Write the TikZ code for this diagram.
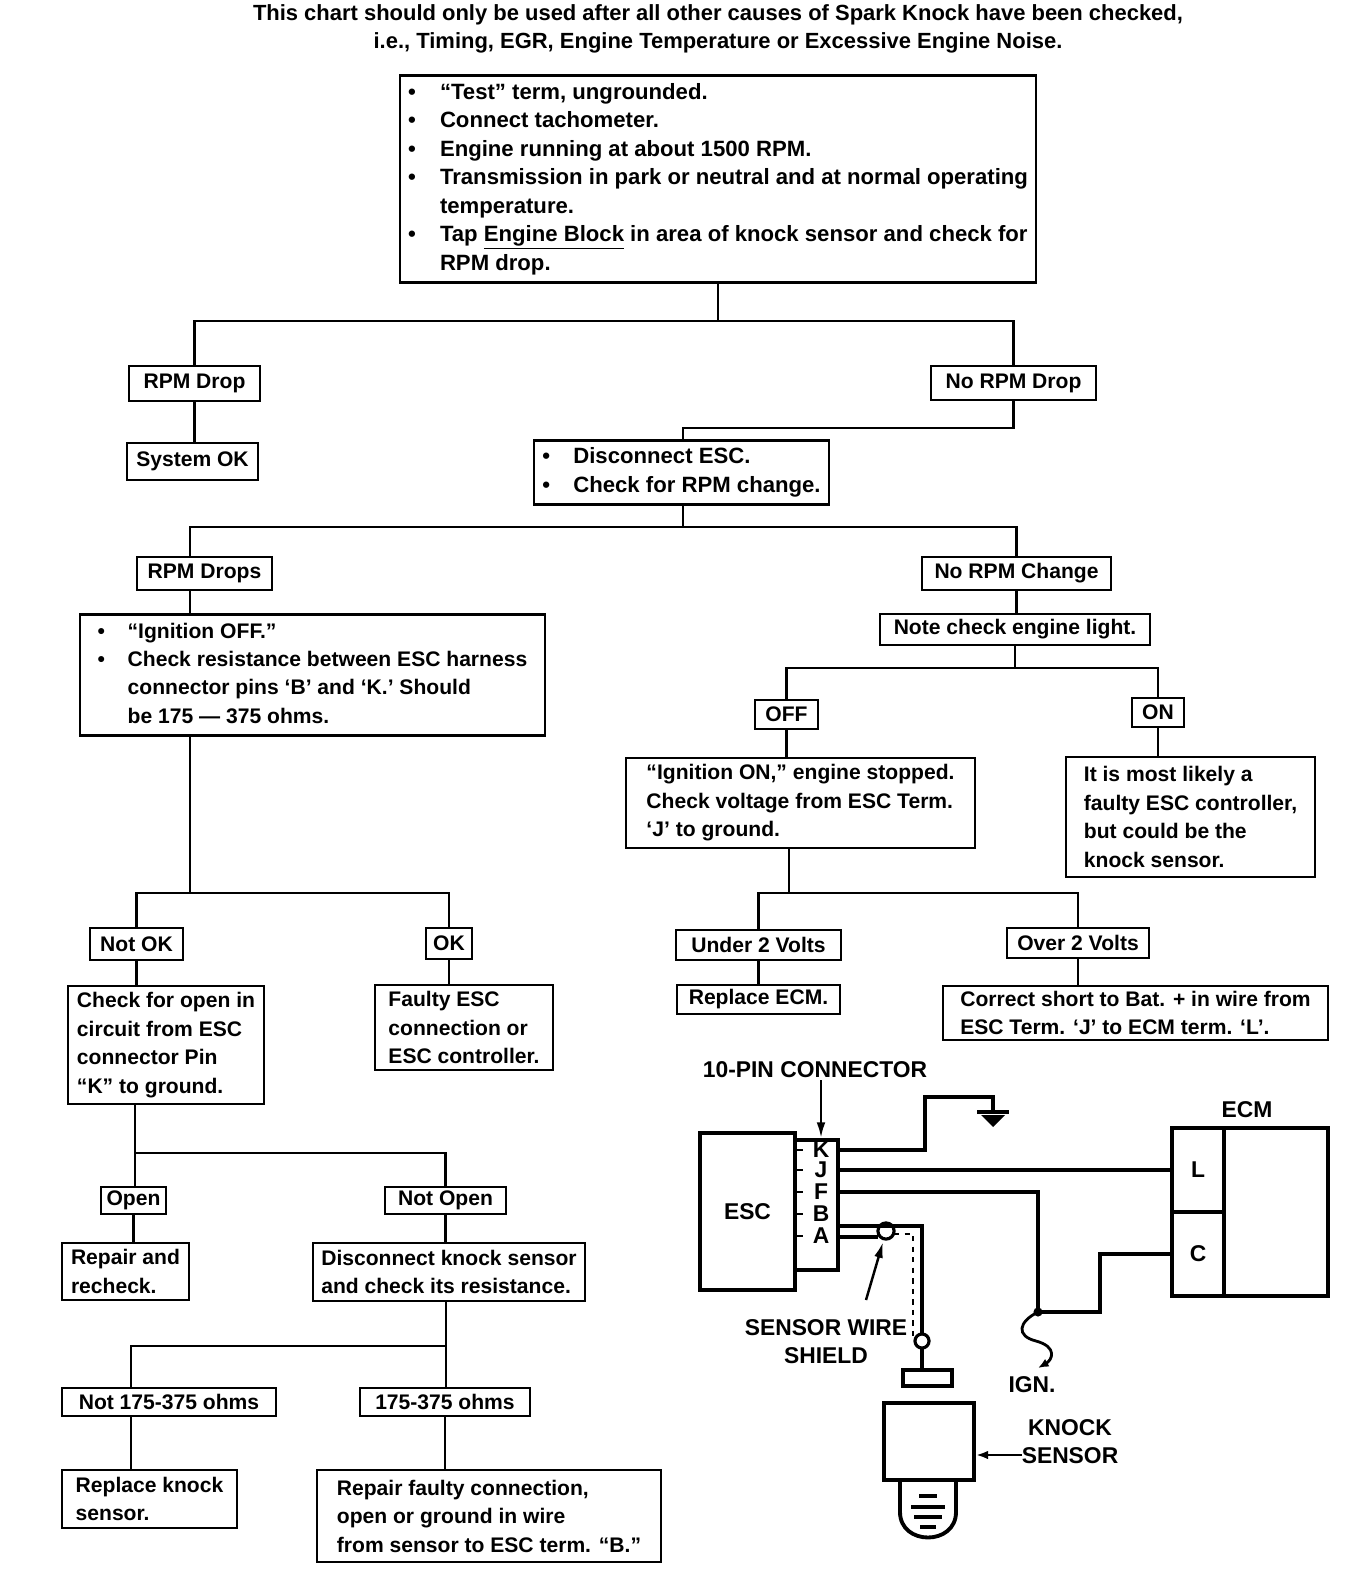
\documentclass[tikz,border=0pt]{standalone}
\usepackage{fontspec}
\setmainfont{Liberation Sans}
\usetikzlibrary{arrows.meta,calc}
\newcommand*{\unitpx}{0.02cm}
\tikzset{%
  box/.style={draw, line width=1.6pt, inner xsep=3pt, inner ysep=2pt, align=left,
    font=\fontsize{12}{16.2}\selectfont\bfseries},% flowchart box
  wide/.style={font=\fontsize{12.6}{16.2}\selectfont\bfseries},% larger bullet text
  boxsize/.style 2 args={minimum width=#1*\unitpx, minimum height=#2*\unitpx},% size in pixels
  link/.style={line width=1.6pt},% flowchart connector
  part/.style={draw, line width=2.2pt, inner sep=0pt, font=\fontsize{13}{16}\selectfont\bfseries},% schematic part
  wire/.style={line width=2.8pt},% wiring
  tag/.style={inner sep=1pt, align=center, font=\fontsize{13}{16}\selectfont\bfseries}% schematic text
}
\newcommand*{\bul}{\textbullet}

\begin{document}
\begin{tikzpicture}[x=0.02cm, y=-0.02cm]
\useasboundingbox (0,0) rectangle (1360,1588);

\node[align=center, font=\fontsize{12.5}{16.2}\selectfont\bfseries] (title) at (718,29)
  {This chart should only be used after all other causes of Spark Knock have been checked,\\
   i.e., Timing, EGR, Engine Temperature or Excessive Engine Noise.};

% main checks
\node[box, wide, boxsize={636}{202}] (test) at (718,179) {\begin{tabular}{@{}p{0.64cm}@{}l@{}}
\bul & ``Test'' term, ungrounded.\\
\bul & Connect tachometer.\\
\bul & Engine running at about 1500 RPM.\\
\bul & Transmission in park or neutral and at normal operating\\
     & temperature.\\
\bul & Tap \underline{Engine Block} in area of knock sensor and check for\\
     & RPM drop.
\end{tabular}};
\node[box, boxsize={131}{35}] (rpmdrop) at (194.5,383.5) {RPM Drop};
\node[box, boxsize={131}{37}] (sysok) at (192.5,461.5) {System OK};
\node[box, boxsize={165}{34}] (norpmdrop) at (1013.5,383) {No RPM Drop};
\node[box, wide, boxsize={295}{59}] (disc) at (681.5,472.5) {\begin{tabular}{@{}p{0.62cm}@{}l@{}}
\bul & Disconnect ESC.\\
\bul & Check for RPM change.
\end{tabular}};
\node[box, boxsize={135}{33}] (rpmdrops) at (204.5,573.5) {RPM Drops};
\node[box, boxsize={189}{33}] (norpmchange) at (1016.5,573.5) {No RPM Change};

% left branch
\node[box, boxsize={465}{120}] (ignoff) at (312.5,675) {\begin{tabular}{@{}p{0.6cm}@{}l@{}}
\bul & ``Ignition OFF.''\\
\bul & Check resistance between ESC harness\\
     & connector pins `B' and `K.' Should\\
     & be 175 --- 375 ohms.
\end{tabular}};
\node[box, boxsize={93}{32}] (notok) at (136.5,944) {Not OK};
\node[box, boxsize={46}{31}] (ok) at (449,943.5) {OK};
\node[box, boxsize={196}{118}] (checkopen) at (166,1045) {Check for open in\\circuit from ESC\\connector Pin\\``K'' to ground.};
\node[box, boxsize={178}{85}] (faulty) at (464,1027.5) {Faulty ESC\\connection or\\ESC controller.};
\node[box, boxsize={65}{27}] (open) at (133.5,1200.5) {Open};
\node[box, boxsize={121}{27}] (notopen) at (445.5,1200.5) {Not Open};
\node[box, boxsize={127}{57}] (repair) at (125.5,1271.5) {Repair and\\recheck.};
\node[box, boxsize={272}{58}] (discknock) at (449,1272) {Disconnect knock sensor\\and check its resistance.};
\node[box, boxsize={214}{28}] (not175) at (169,1402) {Not 175-375 ohms};
\node[box, boxsize={170}{28}] (ohms) at (445,1402) {175-375 ohms};
\node[box, boxsize={175}{58}] (replknock) at (149.5,1499) {Replace knock\\sensor.};
\node[box, boxsize={344}{92}] (repfaulty) at (489,1516) {Repair faulty connection,\\open or ground in wire\\from sensor to ESC term. ``B.''};

% right branch
\node[box, boxsize={270}{31}] (note) at (1015,629.5) {Note check engine light.};
\node[box, boxsize={63}{29}] (off) at (786.5,714.5) {OFF};
\node[box, boxsize={52}{29}] (on) at (1158,712.5) {ON};
\node[box, boxsize={349}{90}] (ignon) at (800.5,803) {``Ignition ON,'' engine stopped.\\Check voltage from ESC Term.\\`J' to ground.};
\node[box, boxsize={249}{120}] (likely) at (1190.5,817) {It is most likely a\\faulty ESC controller,\\but could be the\\knock sensor.};
\node[box, boxsize={165}{30}] (under) at (758.5,945) {Under 2 Volts};
\node[box, boxsize={142}{30}] (over) at (1078,943) {Over 2 Volts};
\node[box, boxsize={163}{29}] (replecm) at (758.5,999.5) {Replace ECM.};
\node[box, boxsize={385}{54}] (correct) at (1135.5,1013) {Correct short to Bat. + in wire from\\ESC Term. `J' to ECM term. `L'.};

% connectors
\coordinate (j1) at (718,321);
\draw[link] (test.south) -- (j1);
\draw[link] (rpmdrop.north) |- (j1) -| (norpmdrop.north);
\draw[link] (rpmdrop.south) -- (rpmdrop.south |- sysok.north);
\coordinate (j2) at (683,428);
\draw[link] (norpmdrop.south) |- (j2) -- (j2 |- disc.north);
\coordinate (j3) at (683,527);
\draw[link] (j3 |- disc.south) -- (j3);
\coordinate (c1) at (190,527);
\draw[link] (c1 |- rpmdrops.north) -- (c1) -| (norpmchange.north);
\draw[link] (c1 |- rpmdrops.south) -- (c1 |- ignoff.north);
\coordinate (j4) at (190,893);
\draw[link] (c1 |- ignoff.south) -- (j4);
\draw[link] (notok.north) |- (j4) -| (ok.north);
\draw[link] (notok.south) -- (notok.south |- checkopen.north);
\draw[link] (ok.south) -- (ok.south |- faulty.north);
\coordinate (j5) at (135,1153);
\draw[link] (j5 |- checkopen.south) -- (j5) -- (j5 |- open.north);
\draw[link] (j5) -| (notopen.north);
\draw[link] (open.south) -- (open.south |- repair.north);
\draw[link] (notopen.south) -- (notopen.south |- discknock.north);
\coordinate (j6) at (446,1346);
\draw[link] (j6 |- discknock.south) -- (j6 |- ohms.north);
\coordinate (c3) at (131,1346);
\draw[link] (j6) -- (c3) -- (c3 |- not175.north);
\draw[link] (c3 |- not175.south) -- (c3 |- replknock.north);
\draw[link] (ohms.south) -- (ohms.south |- repfaulty.north);
\draw[link] (norpmchange.south) -- (norpmchange.south |- note.north);
\coordinate (j7) at (1015,668);
\draw[link] (note.south) -- (j7);
\draw[link] (off.north) |- (j7) -| (on.north);
\draw[link] (off.south) -- (off.south |- ignon.north);
\draw[link] (on.south) -- (on.south |- likely.north);
\coordinate (j8) at (789,893);
\draw[link] (j8 |- ignon.south) -- (j8);
\draw[link] (under.north) |- (j8) -| (over.north);
\draw[link] (under.south) -- (under.south |- replecm.north);
\draw[link] (over.south) -- (over.south |- correct.north);

% wiring schematic
\node[part, boxsize={95}{157}] (esc) at (747.5,1211.5) {ESC};
\node[part, boxsize={43}{130}] (pins) at (816.5,1205) {};
\foreach \p/\y in {K/1150,J/1170,F/1192,B/1214,A/1236}{
  \node[tag] (pin\p) at (821,\y) {\p};
  \draw[line width=1.6pt] (795,\y) -- ++(8,0);
}
\node[tag] (tenpin) at (815,1070) {10-PIN CONNECTOR};
\draw[line width=1.4pt, -{Latex[length=9pt,width=5pt]}] (tenpin.south -| pinK) -- (pins.north -| pinK);

\node[part, boxsize={52}{84}] (ecml) at (1198,1170) {L};
\node[part, boxsize={52}{84}] (ecmc) at (1198,1254) {C};
\node[part, boxsize={156}{168}] (ecm) at (1250,1212) {};
\node[tag] (ecmtxt) at (1247,1110) {ECM};

\coordinate (gnd) at (993,1097);
\draw[wire] (838,1150) -- (925,1150) |- (gnd) -- ++(0,15);
\draw[line width=2pt] (977,1112) -- (1009,1112);
\fill (981,1115) -- (1005,1115) -- (993,1127) -- cycle;
\draw[wire] (pins.east |- ecml.west) -- (ecml.west);
\coordinate (ignjoint) at (1038,1312);
\draw[wire] (838,1192) -| (ignjoint) -- (1100,1312) |- (ecmc.west);
\fill (ignjoint) circle (2.6pt);
\draw[line width=1.6pt, -{Latex[length=6pt,width=5pt]}] (ignjoint)
  .. controls (1018,1322) and (1016,1336) .. (1036,1341)
  .. controls (1058,1347) and (1052,1360) .. (1038,1368);
\node[tag] (ign) at (1032,1385) {IGN.};

% sensor lead and shield
\coordinate (shieldjoint) at (886,1231);
\coordinate (lowjoint) at (922,1341);
\draw[wire] (838,1226) -| ($(lowjoint)+(0,-7)$);
\draw[wire] (838,1237) -- (878,1237);
\draw[line width=1.8pt] (shieldjoint) circle (4.6pt);
\draw[line width=1.2pt, dashed] (894,1234) -| (913,1338);
\draw[line width=1.8pt] (lowjoint) circle (4pt);
\node[part, boxsize={49}{16}] (bar) at (927.5,1378) {};
\draw[wire] ($(lowjoint)+(0,7)$) -- (bar.north -| lowjoint);
\node[tag] (shieldtxt) at (826,1342) {SENSOR WIRE\\SHIELD};
\draw[line width=1.4pt, -{Latex[length=9pt,width=5pt]}] (866,1300) -- (883,1242);

% knock sensor
\node[part, boxsize={90}{77}] (sensor) at (929,1441.5) {};
\draw[line width=2.2pt] (900,1480) -- (900,1512) .. controls (900,1546) and (956,1546) .. (956,1512) -- (956,1480);
\foreach \a/\b/\y in {919/937/1496,911/945/1507,914/942/1517,920/936/1527}
  \draw[line width=2pt] (\a,\y) -- (\b,\y);
\node[tag] (knocktxt) at (1070,1442) {KNOCK\\SENSOR};
\coordinate (knockarrow) at (1022,1455);
\draw[line width=1.6pt, -{Latex[length=7pt,width=5pt]}] (knockarrow) -- (sensor.east |- knockarrow);
\end{tikzpicture}
\end{document}
